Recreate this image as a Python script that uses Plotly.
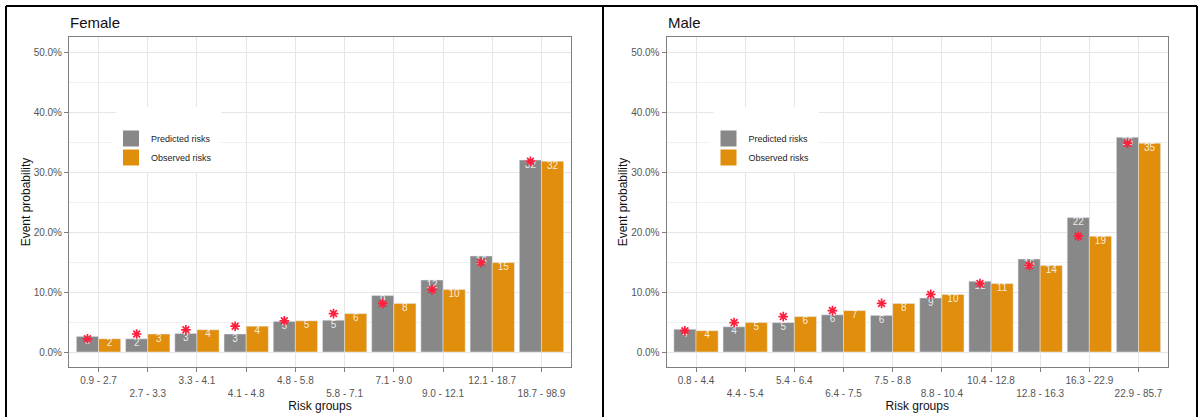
import plotly.graph_objects as go

# ---------------- data ----------------
female_groups = ["0.9 - 2.7", "2.7 - 3.3", "3.3 - 4.1", "4.1 - 4.8", "4.8 - 5.8",
                 "5.8 - 7.1", "7.1 - 9.0", "9.0 - 12.1", "12.1 - 18.7", "18.7 - 98.9"]
female_pred = [2.6, 2.2, 3.1, 3.0, 5.1, 5.3, 9.4, 12.0, 16.0, 32.0]
female_obs = [2.2, 3.0, 3.7, 4.3, 5.2, 6.4, 8.1, 10.4, 14.9, 31.8]

male_groups = ["0.8 - 4.4", "4.4 - 5.4", "5.4 - 6.4", "6.4 - 7.5", "7.5 - 8.8",
               "8.8 - 10.4", "10.4 - 12.8", "12.8 - 16.3", "16.3 - 22.9", "22.9 - 85.7"]
male_pred = [3.8, 4.2, 4.9, 6.2, 6.1, 9.0, 11.8, 15.5, 22.4, 35.8]
male_obs = [3.55, 4.9, 5.9, 6.9, 8.1, 9.6, 11.4, 14.4, 19.3, 34.8]

y_ticks = [0, 10, 20, 30, 40, 50]
y_tick_labels = ["0.0%", "10.0%", "20.0%", "30.0%", "40.0%", "50.0%"]
y_minor = [5, 15, 25, 35, 45]

panel_titles = ["Female", "Male"]
series_names = ["Predicted risks", "Observed risks"]

# ---------------- styling ----------------
W, H = 1201, 417
GRAY = "#888888"
ORANGE = "#E08E0B"
STAR = "#FF1F3D"
LABEL = "rgba(255,255,255,0.85)"
FONT = "Liberation Sans, Arial, sans-serif"


def px(v):
    return v / W


def py(v):
    return 1 - v / H


x_domains = [[px(69), px(571)], [px(666.5), px(1168)]]
y_domain = [py(367), py(37)]
panel_shift = 597.5

fig = go.Figure()

panels = [(female_groups, female_pred, female_obs), (male_groups, male_pred, male_obs)]
for i, (groups, pred, obs) in enumerate(panels):
    xa = "x" if i == 0 else "x2"
    ya = "y" if i == 0 else "y2"
    lg = "legend" if i == 0 else "legend2"
    fig.add_trace(go.Bar(x=groups, y=pred, name=series_names[0], marker_color=GRAY,
                         offsetgroup="p", showlegend=False, xaxis=xa, yaxis=ya))
    fig.add_trace(go.Bar(x=groups, y=obs, name=series_names[1], marker_color=ORANGE,
                         offsetgroup="o", showlegend=False, xaxis=xa, yaxis=ya))
    fig.add_trace(go.Scatter(x=groups, y=pred, mode="text", texttemplate="%{y:.0f}",
                             textposition="bottom center",
                             textfont=dict(size=10, color=LABEL, family=FONT),
                             offsetgroup="p", showlegend=False, xaxis=xa, yaxis=ya,
                             cliponaxis=False))
    fig.add_trace(go.Scatter(x=groups, y=obs, mode="text", texttemplate="%{y:.0f}",
                             textposition="bottom center",
                             textfont=dict(size=10, color=LABEL, family=FONT),
                             offsetgroup="o", showlegend=False, xaxis=xa, yaxis=ya,
                             cliponaxis=False))
    fig.add_trace(go.Scatter(x=groups, y=obs, mode="markers",
                             marker=dict(symbol="asterisk-open", size=8, color=STAR,
                                         line=dict(color=STAR, width=1.7)),
                             offsetgroup="p", showlegend=False, xaxis=xa, yaxis=ya,
                             cliponaxis=False))
    # legend entries
    fig.add_trace(go.Scatter(x=[None], y=[None], mode="markers", name=series_names[0],
                             marker=dict(symbol="square", size=16, color=GRAY),
                             offsetgroup="p", legend=lg, xaxis=xa, yaxis=ya))
    fig.add_trace(go.Scatter(x=[None], y=[None], mode="markers", name=series_names[1],
                             marker=dict(symbol="square", size=16, color=ORANGE),
                             offsetgroup="o", legend=lg, xaxis=xa, yaxis=ya))

axis_common = dict(showline=True, linecolor="#7f7f7f", linewidth=1, mirror=True,
                   ticks="outside", ticklen=4, tickcolor="#7f7f7f", tickwidth=1,
                   showgrid=True, gridcolor="#E6E6E6", gridwidth=1, zeroline=False,
                   tickfont=dict(size=10, color="#555555", family=FONT))

layout_axes = {}
for i, (groups, _, _) in enumerate(panels):
    sfx = "" if i == 0 else "2"
    staggered = [g if k % 2 == 0 else "<br>" + g for k, g in enumerate(groups)]
    layout_axes["xaxis" + sfx] = dict(
        axis_common, domain=x_domains[i], type="category", range=[-0.6, 9.6],
        tickmode="array", tickvals=groups, ticktext=staggered, tickangle=0,
        anchor="y" + sfx,
        title=dict(text="Risk groups", font=dict(size=12, color="#111111", family=FONT),
                   standoff=0))
    layout_axes["yaxis" + sfx] = dict(
        axis_common, domain=y_domain, range=[-2.5, 52.5],
        tickmode="array", tickvals=y_ticks, ticktext=y_tick_labels,
        minor=dict(tickvals=y_minor, showgrid=True, gridcolor="#F0F0F0", ticks=""),
        anchor="x" + sfx,
        title=dict(text="Event probability", font=dict(size=12, color="#111111", family=FONT),
                   standoff=0))

fig.update_layout(**layout_axes)

legend_common = dict(xanchor="left", yanchor="top", bgcolor="white",
                     font=dict(size=9, color="#222222", family=FONT), tracegroupgap=0)

fig.update_layout(
    width=W, height=H, margin=dict(l=0, r=0, t=0, b=0),
    paper_bgcolor="white", plot_bgcolor="white",
    barmode="group", bargap=0.1, bargroupgap=0,
    scattermode="group", scattergap=0.1,
    font=dict(family=FONT, color="#222222"),
    legend=dict(legend_common, x=px(111), y=py(124)),
    legend2=dict(legend_common, x=px(111 + panel_shift), y=py(124)),
)

shapes = []
# white boxes behind legends (cover gridlines)
for i in range(2):
    off = i * panel_shift
    shapes.append(dict(type="rect", xref="paper", yref="paper", layer="above",
                       x0=px(116 + off), x1=px(221 + off), y0=py(172), y1=py(107),
                       fillcolor="white", line=dict(width=0)))
# outer frame lines
for (x0, y0, x1, y1) in [(6, 6, 1197, 6), (6, 6, 6, 417), (603, 6, 603, 417), (1197, 6, 1197, 417)]:
    shapes.append(dict(type="line", xref="paper", yref="paper",
                       x0=px(x0), y0=py(y0), x1=px(x1), y1=py(y1),
                       line=dict(color="black", width=2)))
fig.update_layout(shapes=shapes)

for i, t in enumerate(panel_titles):
    fig.add_annotation(text=t, xref="paper", yref="paper",
                       x=px(68 + i * panel_shift), y=py(22), xanchor="left", yanchor="middle",
                       showarrow=False, font=dict(size=15, color="#111111", family=FONT))

fig.write_html(
    "out.html",
    config={"displayModeBar": False},
    post_script="document.body.style.margin='0';document.body.style.overflow='hidden';",
)
